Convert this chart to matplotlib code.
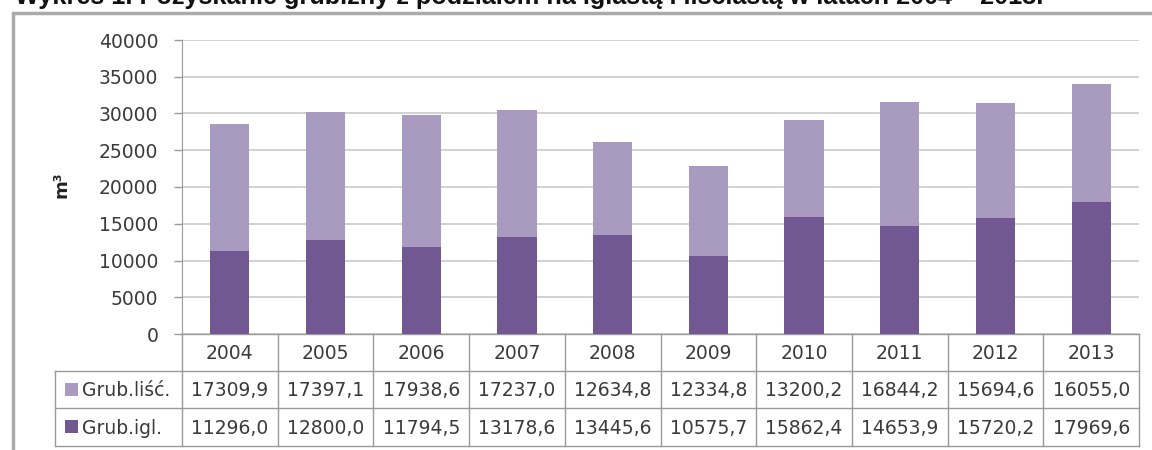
import matplotlib
matplotlib.use("Agg")
import matplotlib.pyplot as plt
import matplotlib.transforms as mtransforms
from matplotlib.patches import Rectangle
from matplotlib.lines import Line2D
import numpy as np

years = ["2004", "2005", "2006", "2007", "2008", "2009", "2010", "2011", "2012", "2013"]
grub_lisc = [17309.9, 17397.1, 17938.6, 17237.0, 12634.8, 12334.8, 13200.2, 16844.2, 15694.6, 16055.0]
grub_igl = [11296.0, 12800.0, 11794.5, 13178.6, 13445.6, 10575.7, 15862.4, 14653.9, 15720.2, 17969.6]
series_names = ["Grub.liść.", "Grub.igl."]
title = "Wykres 1. Pozyskanie grubizny z podziałem na iglastą i liściastą w latach 2004 – 2013."
y_ticks = [0, 5000, 10000, 15000, 20000, 25000, 30000, 35000, 40000]

LIGHT = "#A89BBF"
DARK = "#715893"
GRID = "#C9C9C9"
TXT = "#3a3a3a"
FONT = "DejaVu Sans"

W, H = 1152, 450
fig = plt.figure(figsize=(W / 100, H / 100), dpi=100)

def fx(px):
    return px / W

def fy(py):
    return 1 - py / H

x0, x1, ytop, ybot = 182, 1139, 40, 334
ax = fig.add_axes([fx(x0), fy(ybot), fx(x1) - fx(x0), (ybot - ytop) / H])

x = np.arange(len(years))
ax.bar(x, grub_igl, width=0.41, color=DARK, zorder=3)
ax.bar(x, grub_lisc, bottom=grub_igl, width=0.41, color=LIGHT, zorder=3)
ax.set_xlim(-0.5, len(years) - 0.5)
ax.set_ylim(0, 40000)
ax.set_yticks(y_ticks)
ax.set_yticklabels([str(t) for t in y_ticks], fontsize=13.5, family=FONT, color=TXT)
ax.set_xticks([])
ax.yaxis.grid(True, color=GRID, lw=1.2, zorder=0)
ax.tick_params(axis="y", length=6, width=1.0, color="#9a9a9a", pad=11)
for s in ["top", "right"]:
    ax.spines[s].set_visible(False)
ax.spines["left"].set_color("#9a9a9a")
ax.spines["bottom"].set_color("#9a9a9a")
ax.spines["bottom"].set_linewidth(1.0)

trans = mtransforms.blended_transform_factory(ax.transData, ax.transAxes)
axh = ybot - ytop

def ay(py):
    return (ybot - py) / axh

lc = "#9a9a9a"
label_left = -0.5 - (x0 - 55) / ((x1 - x0) / len(years))
rows_y = [334, 371, 408, 446]
for ry in rows_y[1:]:
    ax.add_line(Line2D([label_left, len(years) - 0.5], [ay(ry)] * 2, transform=trans, color=lc, lw=1, clip_on=False))
for k in range(len(years) + 1):
    ax.add_line(Line2D([k - 0.5, k - 0.5], [ay(rows_y[0]), ay(rows_y[3])], transform=trans, color=lc, lw=1, clip_on=False))
ax.add_line(Line2D([label_left, label_left], [ay(rows_y[1]), ay(rows_y[3])], transform=trans, color=lc, lw=1, clip_on=False))

def fmt(v):
    return f"{v:.1f}".replace(".", ",")

for i, yr in enumerate(years):
    ax.text(i, ay((rows_y[0] + rows_y[1]) / 2 + 1), yr, transform=trans, ha="center", va="center",
            fontsize=13.5, family=FONT, color=TXT, clip_on=False)
    ax.text(i, ay((rows_y[1] + rows_y[2]) / 2 + 1), fmt(grub_lisc[i]), transform=trans, ha="center", va="center",
            fontsize=13.5, family=FONT, color=TXT, clip_on=False)
    ax.text(i, ay((rows_y[2] + rows_y[3]) / 2 + 1), fmt(grub_igl[i]), transform=trans, ha="center", va="center",
            fontsize=13.5, family=FONT, color=TXT, clip_on=False)

for name, col, (ra, rb) in [(series_names[0], LIGHT, (rows_y[1], rows_y[2])),
                            (series_names[1], DARK, (rows_y[2], rows_y[3]))]:
    cy = (ra + rb) / 2
    fig.patches.append(Rectangle((fx(65), fy(cy + 6)), 13 / W, 13 / H, transform=fig.transFigure,
                                 facecolor=col, edgecolor="none"))
    fig.text(fx(82), fy(cy + 1), name, ha="left", va="center", fontsize=13.5, family=FONT, color=TXT)

fig.text(fx(62), fy(185), "m³", rotation=90, ha="center", va="center", fontsize=13,
         fontweight="bold", family=FONT, color="#222222")

# outer frame
fig.patches.append(Rectangle((fx(13), fy(470)), (1200 - 13) / W, (470 - 13) / H, transform=fig.transFigure,
                             facecolor="none", edgecolor="#aaaaaa", lw=2.5))

# title (partly cut off at the top, as in the reference)
t = fig.text(fx(15), fy(4), title, ha="left", va="baseline", fontsize=18, family="Liberation Sans",
             fontweight="bold", color="#111111")
fig.canvas.draw()
bb = t.get_window_extent()
t.set_fontsize(18 * (1045 - 15) / bb.width)

fig.savefig("out.png", dpi=100)
